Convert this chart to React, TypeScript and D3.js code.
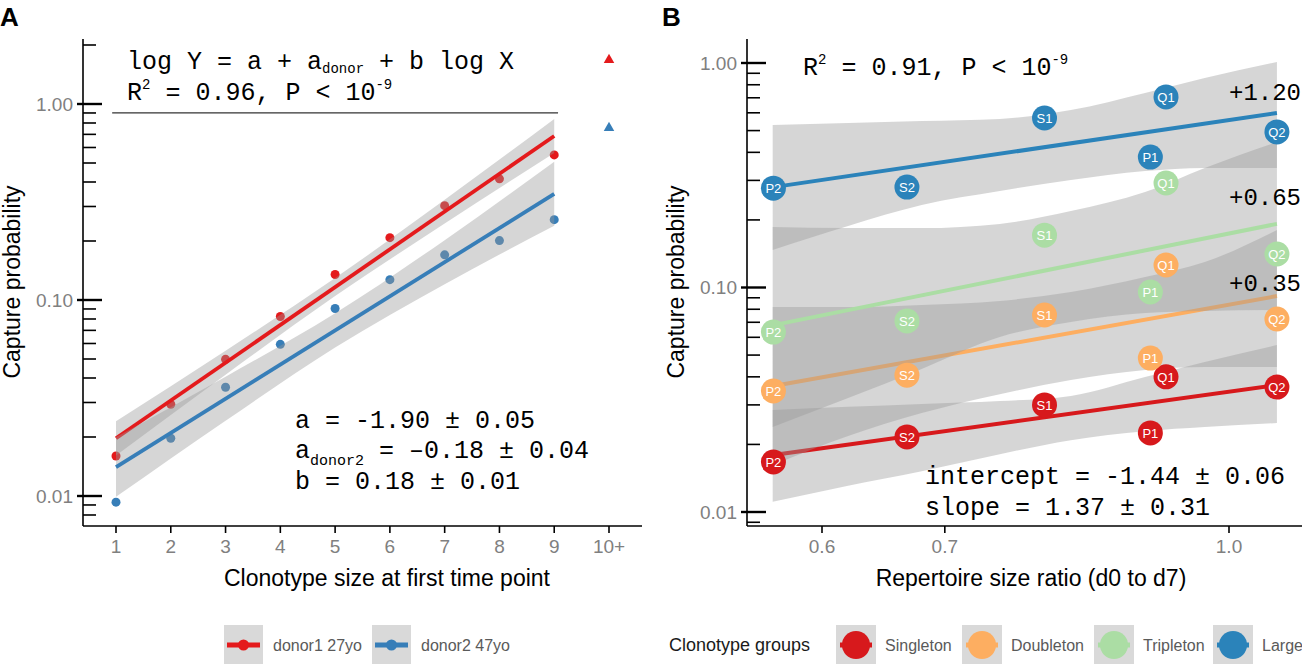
import * as d3 from "d3";

const SANS = "'Liberation Sans', Arial, Helvetica, sans-serif";
const MONO = "'Liberation Mono', 'Courier New', monospace";

// ---------- panel A: capture probability by clonotype size ----------
const sizeTicks = [1, 2, 3, 4, 5, 6, 7, 8, 9, 10];
const sizeTickLabels = ["1", "2", "3", "4", "5", "6", "7", "8", "9", "10+"];
const sizes = [1, 2, 3, 4, 5, 6, 7, 8, 9];
const donor1Prob = [0.016, 0.0294, 0.0498, 0.0824, 0.135, 0.208, 0.303, 0.415, 0.55];
const donor2Prob = [0.0093, 0.0197, 0.0359, 0.0594, 0.0905, 0.127, 0.17, 0.201, 0.257];
const largeSize = 10;
const donor1Large = 1.68;
const donor2Large = 0.755;
const fitSizes = [1, 9];
const donor1Fit = [0.0197, 0.687];
const donor2Fit = [0.01405, 0.348];
const bandSizes = [1, 3, 5, 7, 9];
const donor1Upper = [0.0241, 0.0551, 0.1294, 0.325, 0.839];
const donor1Lower = [0.0161, 0.0416, 0.1047, 0.2455, 0.562];
const donor2Upper = [0.02, 0.0406, 0.0855, 0.202, 0.507];
const donor2Lower = [0.0099, 0.0242, 0.0573, 0.1205, 0.239];
const ruleProb = 0.9;
const ruleSizes = [0.93, 9.07];
const donors = ["donor1 27yo", "donor2 47yo"];
const donorColors = ["#e41a1c", "#377eb8"];

// ---------- panel B: capture probability by repertoire size ratio ----------
const samples = ["P2", "S2", "S1", "P1", "Q1", "Q2"];
const sizeRatio = [0.5645, 0.6675, 0.7933, 0.906, 0.924, 1.062];
const groups = ["Singleton", "Doubleton", "Tripleton", "Large"];
const groupColors = ["#d7191c", "#fdae61", "#abdda4", "#2b83ba"];
const singletonProb = [0.0167, 0.0216, 0.03, 0.0225, 0.04, 0.036];
const doubletonProb = [0.0346, 0.0407, 0.0754, 0.0485, 0.126, 0.0724];
const tripletonProb = [0.0633, 0.071, 0.171, 0.0955, 0.292, 0.141];
const largeProb = [0.277, 0.28, 0.569, 0.381, 0.706, 0.493];
const fitRatio = [0.5645, 1.062];
const singletonFit = [0.01795, 0.0368];
const doubletonFit = [0.0364, 0.0916];
const tripletonFit = [0.068, 0.192];
const largeFit = [0.28, 0.599];
const bandRatio = [0.564, 0.62, 0.68, 0.75, 0.82, 0.9, 0.97, 1.062];
const singletonUpper = [0.0285, 0.0294, 0.0303, 0.0312, 0.0329, 0.0399, 0.0466, 0.0554];
const singletonLower = [0.0111, 0.0131, 0.0152, 0.0181, 0.0209, 0.0229, 0.0239, 0.0249];
const doubletonUpper = [0.0818, 0.0818, 0.0836, 0.0871, 0.0955, 0.1114, 0.1299, 0.1803];
const doubletonLower = [0.0162, 0.0218, 0.0276, 0.0335, 0.0387, 0.0429, 0.0442, 0.0442];
const tripletonUpper = [0.186, 0.184, 0.184, 0.192, 0.219, 0.266, 0.341, 0.445];
const tripletonLower = [0.0239, 0.0322, 0.0434, 0.0602, 0.0702, 0.077, 0.0786, 0.0794];
const largeUpper = [0.529, 0.54, 0.551, 0.563, 0.617, 0.735, 0.857, 1.01];
const largeLower = [0.147, 0.188, 0.233, 0.269, 0.301, 0.33, 0.341, 0.341];
const ratioTicks = [0.6, 0.7, 1.0];
const ratioTickLabels = ["0.6", "0.7", "1.0"];
const offsetLabels = ["+1.20", "+0.65", "+0.35"];
const offsetProb = [0.684, 0.233, 0.0965];

const probTicks = [0.01, 0.1, 1];
const probTickLabels = ["0.01", "0.10", "1.00"];

const bandFill = "#999999";
const bandOpacity = 0.4;

function LogYAxis({ x, scale, top, bottom }: { x: number; scale: d3.ScaleLogarithmic<number, number>; top: number; bottom: number }) {
  const lo = scale.invert(bottom), hi = scale.invert(top);
  const minor = d3.scaleLog().domain([lo, hi]).ticks()
    .filter(t => !probTicks.some(m => Math.abs(m - t) / m < 1e-6));
  return (
    <g>
      <line x1={x} x2={x} y1={top} y2={bottom} stroke="#000" strokeWidth={1.6} />
      {minor.map((t, i) => (
        <line key={"m" + i} x1={x} x2={x + 13} y1={scale(t)} y2={scale(t)} stroke="#000" strokeWidth={1.6} />
      ))}
      {probTicks.map((t, i) => (
        <g key={"M" + i}>
          <line x1={x - 6} x2={x + 19} y1={scale(t)} y2={scale(t)} stroke="#000" strokeWidth={2.4} />
          <text x={x - 10} y={scale(t)} dy="0.35em" textAnchor="end" fontSize={19} fill="#808080">{probTickLabels[i]}</text>
        </g>
      ))}
    </g>
  );
}

export default function App() {
  const xA = d3.scaleLinear().domain([1, 10]).range([116, 609]);
  const yA = d3.scaleLog().domain([0.01, 1]).range([496, 104]);
  const xB = d3.scaleLog().domain([0.6, 1]).range([822, 1229]);
  const yB = d3.scaleLog().domain([0.01, 1]).range([512, 63]);

  const fitLineA = (vals: number[]) =>
    d3.line<number>().x((_d, i) => xA(fitSizes[i])).y(d => yA(d))(vals) ?? "";
  const bandA = (up: number[], low: number[]) =>
    d3.area<number>().x((_d, i) => xA(bandSizes[i])).y0((_d, i) => yA(low[i])).y1(d => yA(d))
      .curve(d3.curveMonotoneX)(up) ?? "";
  const fitLineB = (vals: number[]) =>
    d3.line<number>().x((_d, i) => xB(fitRatio[i])).y(d => yB(d))(vals) ?? "";
  const bandB = (up: number[], low: number[]) =>
    d3.area<number>().x((_d, i) => xB(bandRatio[i])).y0((_d, i) => yB(low[i])).y1(d => yB(d))
      .curve(d3.curveMonotoneX)(up) ?? "";

  const donorProb = [donor1Prob, donor2Prob];
  const donorFit = [donor1Fit, donor2Fit];
  const donorBands = [[donor1Upper, donor1Lower], [donor2Upper, donor2Lower]];
  const donorLarge = [donor1Large, donor2Large];
  const tri = d3.symbol(d3.symbolTriangle, 48)() ?? "";

  const groupProb = [singletonProb, doubletonProb, tripletonProb, largeProb];
  const groupFit = [singletonFit, doubletonFit, tripletonFit, largeFit];
  const groupBands = [[singletonUpper, singletonLower], [doubletonUpper, doubletonLower],
    [tripletonUpper, tripletonLower], [largeUpper, largeLower]];

  const legendAX = [224, 372];
  const legendBX = [836, 962, 1094, 1213];
  const pre = { whiteSpace: "pre" as const };

  return (
    <svg width={1302} height={664} style={{ position: "absolute", left: 0, top: 0, background: "#fff" }}
      fontFamily={SANS}>
      {/* ================= A ================= */}
      <text x={0} y={26} fontSize={26} fontWeight="bold">A</text>

      {sizes.map((s, i) => (
        <g key={"pa" + i}>
          {donorProb.map((p, k) => (
            <circle key={k} cx={xA(s)} cy={yA(p[i])} r={4.5} fill={donorColors[k]} />
          ))}
        </g>
      ))}
      {donorFit.map((f, k) => (
        <g key={"fa" + k}>
          <path d={bandA(donorBands[k][0], donorBands[k][1])} fill={bandFill} opacity={bandOpacity} />
          <path d={fitLineA(f)} fill="none" stroke={donorColors[k]} strokeWidth={3.8} />
        </g>
      ))}
      {donorLarge.map((p, k) => (
        <path key={"ta" + k} d={tri} transform={`translate(${xA(largeSize)},${yA(p)})`} fill={donorColors[k]} />
      ))}
      <line x1={xA(ruleSizes[0])} x2={xA(ruleSizes[1])} y1={yA(ruleProb)} y2={yA(ruleProb)} stroke="#333" strokeWidth={1.3} />

      <LogYAxis x={83} scale={yA} top={39} bottom={526} />
      <line x1={83} x2={642} y1={526} y2={526} stroke="#000" strokeWidth={1.6} />
      {sizeTicks.map((t, i) => (
        <g key={"xa" + i}>
          <line x1={xA(t)} x2={xA(t)} y1={526} y2={533} stroke="#000" strokeWidth={1.6} />
          <text x={xA(t)} y={546} dy="0.35em" textAnchor="middle" fontSize={19} fill="#808080">{sizeTickLabels[i]}</text>
        </g>
      ))}
      <text x={387} y={586} textAnchor="middle" fontSize={23} fill="#000">Clonotype size at first time point</text>
      <text transform="translate(20,282) rotate(-90)" textAnchor="middle" fontSize={23} fill="#000">Capture probability</text>

      <g fontFamily={MONO} fontSize={25} fill="#000" style={pre}>
        <text x={127} y={69}>log Y = a + a<tspan fontSize={14} dy={4}>donor</tspan><tspan dy={-4}> + b log X</tspan></text>
        <text x={127} y={100}>R<tspan fontSize={14} dy={-11}>2</tspan><tspan dy={11}> = 0.96, P &lt; 10</tspan><tspan fontSize={14} dy={-11}>-9</tspan></text>
        <text x={295} y={428}>a = -1.90 ± 0.05</text>
        <text x={295} y={458}>a<tspan fontSize={15} dy={7}>donor2</tspan><tspan dy={-7}> = –0.18 ± 0.04</tspan></text>
        <text x={295} y={489}>b = 0.18 ± 0.01</text>
      </g>

      {donors.map((d, k) => (
        <g key={"la" + k}>
          <rect x={legendAX[k]} y={625} width={39} height={39} fill="#d9d9d9" />
          <line x1={legendAX[k] + 3} x2={legendAX[k] + 36} y1={645} y2={645} stroke={donorColors[k]} strokeWidth={5} />
          <circle cx={legendAX[k] + 19.5} cy={645} r={5.5} fill={donorColors[k]} />
          <text x={legendAX[k] + 49} y={645} dy="0.35em" fontSize={16} fill="#5a5a5a">{d}</text>
        </g>
      ))}

      {/* ================= B ================= */}
      <text x={662} y={26} fontSize={26} fontWeight="bold">B</text>

      {groupFit.map((f, k) => (
        <g key={"fb" + k}>
          <path d={bandB(groupBands[k][0], groupBands[k][1])} fill={bandFill} opacity={bandOpacity} />
          <path d={fitLineB(f)} fill="none" stroke={groupColors[k]} strokeWidth={4} />
        </g>
      ))}
      {groupProb.map((p, k) => (
        <g key={"pb" + k}>
          {samples.map((s, i) => (
            <g key={s} transform={`translate(${xB(sizeRatio[i])},${yB(p[i])})`}>
              <circle r={12.5} fill={groupColors[k]} />
              <text dy="0.36em" textAnchor="middle" fontSize={13} fill="#fff">{s}</text>
            </g>
          ))}
        </g>
      ))}

      <LogYAxis x={747} scale={yB} top={39} bottom={526} />
      <line x1={747} x2={1302} y1={526} y2={526} stroke="#000" strokeWidth={1.6} />
      {ratioTicks.map((t, i) => (
        <g key={"xb" + i}>
          <line x1={xB(t)} x2={xB(t)} y1={526} y2={533} stroke="#000" strokeWidth={1.6} />
          <text x={xB(t)} y={546} dy="0.35em" textAnchor="middle" fontSize={19} fill="#808080">{ratioTickLabels[i]}</text>
        </g>
      ))}
      <text x={1031} y={586} textAnchor="middle" fontSize={23} fill="#000">Repertoire size ratio (d0 to d7)</text>
      <text transform="translate(684,282) rotate(-90)" textAnchor="middle" fontSize={23} fill="#000">Capture probability</text>

      <g fontFamily={MONO} fontSize={25} fill="#000" style={pre}>
        <text x={803} y={75}>R<tspan fontSize={14} dy={-11}>2</tspan><tspan dy={11}> = 0.91, P &lt; 10</tspan><tspan fontSize={14} dy={-11}>-9</tspan></text>
        <text x={925} y={484}>intercept = -1.44 ± 0.06</text>
        <text x={925} y={515}>slope = 1.37 ± 0.31</text>
        {offsetLabels.map((l, i) => (
          <text key={l} x={1229} y={yB(offsetProb[i])} fontSize={24}>{l}</text>
        ))}
      </g>

      <text x={669} y={645} dy="0.35em" fontSize={18} fill="#1a1a1a">Clonotype groups</text>
      {groups.map((g, k) => (
        <g key={"lb" + k}>
          <rect x={legendBX[k]} y={625} width={40} height={39} fill="#d9d9d9" />
          <line x1={legendBX[k] + 4} x2={legendBX[k] + 36} y1={645} y2={645} stroke={groupColors[k]} strokeWidth={5} />
          <circle cx={legendBX[k] + 20} cy={645} r={14} fill={groupColors[k]} />
          <text x={legendBX[k] + 49} y={645} dy="0.35em" fontSize={16} fill="#5a5a5a">{g}</text>
        </g>
      ))}
    </svg>
  );
}
